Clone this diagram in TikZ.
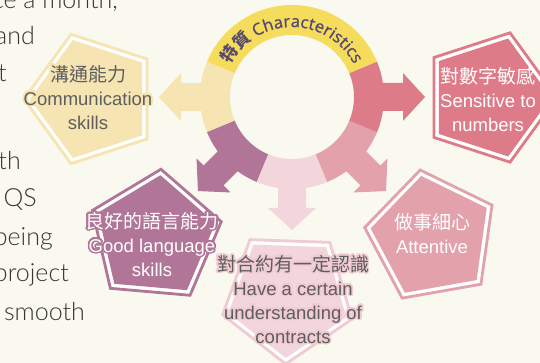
\documentclass[tikz,border=0pt]{standalone}
\usepackage{fontspec}
\usepackage{contour}
\usetikzlibrary{decorations.text}
\setmainfont{Liberation Sans}
\newfontfamily\cjk{Noto Sans CJK TC}
\newfontfamily\ringlat{Noto Sans}[FakeBold=0.5]
\newfontfamily\latol{Lato Light}
\definecolor{bgc}{HTML}{F9F9EF}
\definecolor{ringY}{HTML}{F5DC5C}
\definecolor{cY}{HTML}{F6E4B2}
\definecolor{cR}{HTML}{DE7B88}
\definecolor{cP}{HTML}{B07597}
\definecolor{cK}{HTML}{E3A1AB}
\definecolor{cL}{HTML}{F3D6DC}
\definecolor{cLo}{HTML}{F0CBD2}
\definecolor{ringtxt}{HTML}{574A6F}
\definecolor{graytxt}{HTML}{5E5E5E}
\definecolor{lefttxt}{HTML}{363636}
\newcommand\cjkf{\cjk\fontsize{19}{24}\selectfont}
\newcommand\ringcjkfont{\cjk\bfseries\fontsize{17}{17}\selectfont}
\newcommand\ringlatfont{\ringlat\fontsize{16.5}{17}\selectfont}
\contourlength{1.6pt}
\contournumber{24}
% pentagon: cx, cy(image), start angle, outline R, fill R, colour, outline colour
\newcommand\penta[7]{%
  \begin{scope}[shift={(#1,-#2)}]
    \filldraw[fill=white, draw=#7, line width=2.8pt]
      (#3:#4pt) -- (#3+72:#4pt) -- (#3+144:#4pt) -- (#3+216:#4pt) -- (#3+288:#4pt) -- cycle;
    \fill[#6]
      (#3:#5pt) -- (#3+72:#5pt) -- (#3+144:#5pt) -- (#3+216:#5pt) -- (#3+288:#5pt) -- cycle;
  \end{scope}}
% ring segment with arrow: direction, colour
\newcommand\segarrow[2]{%
  \begin{scope}[shift={(292,-97)}, rotate=#1]
    \fill[#2] (-22.5:62pt) arc[start angle=-22.5, end angle=22.5, radius=62pt]
      -- (22.5:92pt) arc[start angle=22.5, end angle=-22.5, radius=92pt] -- cycle;
    \fill[#2] (85,-14) -- (111,-14) -- (111,-24) -- (133,0) -- (111,24) -- (111,14) -- (85,14) -- cycle;
  \end{scope}}
\tikzset{
  lbl/.style={align=center, inner sep=0pt, font=\fontsize{18.5}{24}\selectfont},
  leftline/.style={anchor=base east, inner sep=0pt, font=\latol\fontsize{25}{30}\selectfont, text=lefttxt},
}
\begin{document}
\begin{tikzpicture}[x=1pt,y=1pt]
\fill[bgc] (0,0) rectangle (540,-363);
\useasboundingbox (0,0) rectangle (540,-363);

% left paragraph (partly hidden)
\node[leftline] (l1) at (118,-9) {once a month,};
\node[leftline] (l2) at (35,-45) {and};
\node[leftline] (l3) at (7,-82) {t};
\node[leftline] (l4) at (21,-170) {th};
\node[leftline] (l5) at (37,-207) {QS};
\node[leftline] (l6) at (53,-245) {being};
\node[leftline] (l7) at (69,-281) {project};
\node[leftline] (l8) at (85,-320) {smooth};

% pentagons
\penta{92}{99}{180}{68}{62}{cY}{cY}
\penta{489}{97.5}{0}{68}{62}{cR}{cR}
\penta{155}{237}{85}{68}{62}{cP}{cP}
\penta{432}{237}{100}{68}{62}{cK}{cK}
\penta{288}{296}{268}{68}{62}{cL}{cLo}

% ring
\begin{scope}[shift={(292,-97)}]
  \fill[ringY] (22.5:62pt) arc[start angle=22.5, end angle=157.5, radius=62pt]
    -- (157.5:92pt) arc[start angle=157.5, end angle=22.5, radius=92pt] -- cycle;
\end{scope}
\segarrow{180}{cY}
\segarrow{225}{cP}
\segarrow{270}{cL}
\segarrow{315}{cK}
\segarrow{0}{cR}

\path[decorate, decoration={text along path, text color=ringtxt, text align=center,
  text={|\ringcjkfont|特質 |\ringlatfont|Characteristics}}]
  (292,-97) ++(175:70pt) arc[start angle=175, end angle=5, radius=70pt];

% labels
\node[lbl, text=graytxt] (comm) at (88,-98)
  {\contour{cY}{\cjkf 溝通能力}\\\contour{cY}{Communication}\\\contour{cY}{skills}};
\node[lbl, text=white] (sens) at (488,-100)
  {{\cjkf 對數字敏感}\\Sensitive to\\numbers};
\node[lbl, text=white] (good) at (152,-245)
  {\contour{cP}{\cjkf 良好的語言能力}\\\contour{cP}{Good language}\\\contour{cP}{skills}};
\node[lbl, text=white] (att) at (432,-234)
  {{\cjkf 做事細心}\\Attentive};
\node[lbl, text=graytxt] (contr) at (293,-300)
  {\contour{cLo}{\cjkf 對合約有一定認識}\\\contour{cLo}{Have a certain}\\\contour{cLo}{understanding of}\\\contour{cLo}{contracts}};
\end{tikzpicture}
\end{document}
